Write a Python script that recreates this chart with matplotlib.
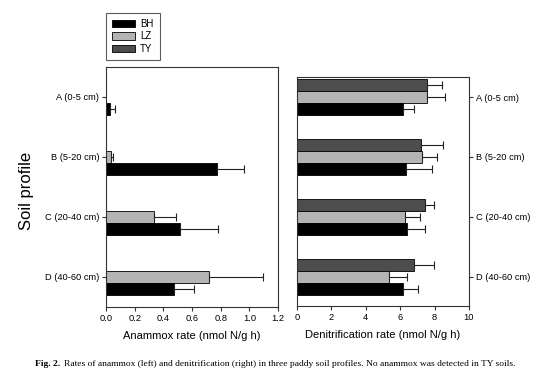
import numpy as np
import matplotlib
matplotlib.use("Agg")
import matplotlib.pyplot as plt
from matplotlib.patches import Patch

plt.rcParams['font.family'] = ['Liberation Sans', 'DejaVu Sans']

categories = ["A (0-5 cm)", "B (5-20 cm)", "C (20-40 cm)", "D (40-60 cm)"]
series = ["BH", "LZ", "TY"]
colors = {"BH": "#000000", "LZ": "#b4b4b4", "TY": "#4d4d4d"}

# Anammox rate (nmol N/g h); TY not detected
anammox_BH = [0.026, 0.775, 0.518, 0.476]
anammox_BH_err = [0.04, 0.19, 0.265, 0.137]
anammox_LZ = [np.nan, 0.035, 0.332, 0.717]
anammox_LZ_err = [np.nan, 0.016, 0.158, 0.378]

# Denitrification rate (nmol N/g h)
denit_BH = [6.17, 6.33, 6.39, 6.17]
denit_BH_err = [0.62, 1.50, 1.06, 0.85]
denit_LZ = [7.56, 7.29, 6.29, 5.36]
denit_LZ_err = [1.07, 0.83, 0.87, 1.05]
denit_TY = [7.53, 7.22, 7.47, 6.83]
denit_TY_err = [0.92, 1.27, 0.52, 1.14]

anammox_ticks = [0.0, 0.2, 0.4, 0.6, 0.8, 1.0, 1.2]
denit_ticks = [0, 2, 4, 6, 8, 10]

W, H = 554, 385
fig = plt.figure(figsize=(W / 100, H / 100), dpi=100)

def px_axes(x0, y0, x1, y1):
    return fig.add_axes([x0 / W, 1 - y1 / H, (x1 - x0) / W, (y1 - y0) / H])

axL = px_axes(106, 67, 278, 307)
axR = px_axes(297, 77, 469, 306)

pos = np.arange(len(categories))
offs = {"TY": -0.2, "LZ": 0.0, "BH": 0.2}
bh = 0.2
ekw = dict(ecolor="#222222", elinewidth=0.8, capsize=2.8, capthick=0.8)

def bars(ax, name, vals, errs):
    vals = np.array(vals, dtype=float)
    errs = np.array(errs, dtype=float)
    xerr = np.vstack([np.zeros_like(errs), errs])
    ax.barh(pos + offs[name], vals, height=bh, color=colors[name],
            edgecolor="#000000", linewidth=0.6, xerr=xerr, error_kw=ekw)

bars(axL, "LZ", anammox_LZ, anammox_LZ_err)
bars(axL, "BH", anammox_BH, anammox_BH_err)

bars(axR, "TY", denit_TY, denit_TY_err)
bars(axR, "LZ", denit_LZ, denit_LZ_err)
bars(axR, "BH", denit_BH, denit_BH_err)

axL.set_xlim(0, 1.2)
axL.set_ylim(3.5, -0.5)
axL.set_xticks(anammox_ticks)
axL.set_xticklabels([f"{t:.1f}" for t in anammox_ticks])
axL.set_yticks(pos)
axL.set_yticklabels(categories)
axL.set_xlabel("Anammox rate (nmol N/g h)", fontsize=8, labelpad=6)

axR.set_xlim(0, 10)
axR.set_ylim(3.49, -0.335)
axR.set_xticks(denit_ticks)
axR.set_yticks(pos)
axR.set_yticklabels(categories)
axR.yaxis.tick_right()
axR.set_xlabel("Denitrification rate (nmol N/g h)", fontsize=8, labelpad=6)

for ax in (axL, axR):
    ax.tick_params(axis="both", direction="out", length=3, width=0.8,
                   labelsize=6.7, color="#333333", pad=2)
    for s in ax.spines.values():
        s.set_linewidth(0.8)
        s.set_color("#333333")

fig.text(27 / W, 1 - 191 / H, "Soil profile", rotation=90, fontsize=12,
         ha="center", va="center")

handles = [Patch(facecolor=colors[s], edgecolor="#000000", linewidth=0.6, label=s)
           for s in series]
leg = fig.legend(handles=handles, loc="upper left",
                 bbox_to_anchor=(106 / W, 1 - 12.7 / H), borderaxespad=0,
                 fontsize=7, frameon=True, fancybox=False,
                 handlelength=2.4, handleheight=0.75, handletextpad=0.5,
                 labelspacing=0.28, borderpad=0.62)
leg.get_frame().set_edgecolor("#333333")
leg.get_frame().set_linewidth(0.8)

cap_y = 1 - 364 / H
t1 = fig.text(35 / W, cap_y, "Fig. 2.", fontsize=6.8, fontweight="bold",
              ha="left", va="center", family="Liberation Serif")
fig.canvas.draw()
bb = t1.get_window_extent()
fig.text((bb.x1 + 4) / W, cap_y,
         "Rates of anammox (left) and denitrification (right) in three paddy soil profiles. No anammox was detected in TY soils.",
         fontsize=6.8, ha="left", va="center", family="Liberation Serif")

fig.savefig("out.png", dpi=100)
